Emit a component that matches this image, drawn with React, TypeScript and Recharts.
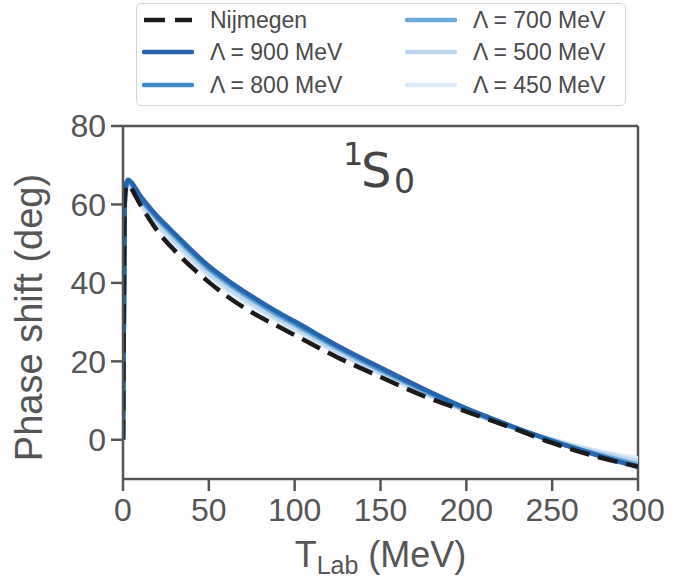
import { LineChart, Line, XAxis, YAxis, Legend, ReferenceLine } from "recharts";

// lab energy grid (MeV)
const tLab = [0, 1, 2, 3, 5, 7.5, 10, 15, 20, 25, 30, 40, 50, 60, 75, 90, 100, 125, 150, 175, 200, 225, 250, 275, 300];

// 1S0 phase shifts (deg)
const nijmegen = [0, 62, 64.6, 65, 64, 62, 60, 56.5, 53.3, 50.6, 48.3, 44, 40.2, 36.8, 32.5, 29, 26.7, 21, 16, 11.2, 7.2, 3.3, -0.8, -4.2, -6.8];
const lam900 = [0, 60.5, 65.5, 66.3, 65.6, 64, 62.3, 59.5, 57, 54.8, 52.6, 48.3, 44.3, 41, 36.6, 32.6, 30.2, 24, 18.4, 13, 8, 3.7, -0.3, -3.8, -7];
const lam800 = [0, 60, 65.3, 66.1, 65.4, 63.8, 62, 59.2, 56.7, 54.5, 52.3, 48, 44, 40.7, 36.3, 32.3, 29.9, 23.7, 18.1, 12.8, 7.8, 3.6, -0.3, -3.7, -6.8];
const lam700 = [0, 59.5, 65, 65.8, 65.1, 63.5, 61.6, 58.8, 56.3, 54, 51.8, 47.5, 43.5, 40.2, 35.8, 31.8, 29.4, 23.3, 17.7, 12.5, 7.6, 3.5, -0.2, -3.5, -6.3];
const lam500 = [0, 58.8, 64.4, 65.2, 64.4, 62.7, 60.8, 57.8, 55.2, 52.9, 50.7, 46.4, 42.5, 39.1, 34.8, 30.9, 28.6, 22.5, 17.1, 12.1, 7.4, 3.5, 0, -3, -5.5];
const lam450 = [0, 58.2, 63.8, 64.7, 63.9, 62.1, 60.1, 57.1, 54.5, 52.2, 50, 45.7, 41.8, 38.4, 34.2, 30.4, 28.1, 22.1, 16.8, 11.9, 7.3, 3.5, 0.1, -2.7, -4.7];

const xTicks = [0, 50, 100, 150, 200, 250, 300];
const yTicks = [0, 20, 40, 60, 80];

const seriesKeys = ["nij", "l900", "l800", "l700", "l500", "l450"];
const seriesNames = ["Nijmegen", "Λ = 900 MeV", "Λ = 800 MeV", "Λ = 700 MeV", "Λ = 500 MeV", "Λ = 450 MeV"];
const seriesColors = ["#1a1a1a", "#2565ae", "#4189c6", "#6aaad8", "#bdd7ee", "#dce9f6"];

const data = tLab.map((t, i) => ({
  t,
  nij: nijmegen[i],
  l900: lam900[i],
  l800: lam800[i],
  l700: lam700[i],
  l500: lam500[i],
  l450: lam450[i],
}));

const FONT = "'Liberation Sans', Arial, Helvetica, sans-serif";
const AXIS = "#555555";

function LegendBox() {
  const rows = [17.7, 49.3, 82];
  return (
    <div
      style={{
        position: "relative",
        width: 490,
        height: 103,
        boxSizing: "border-box",
        border: "1.5px solid #d4d4d4",
        borderRadius: 5,
        background: "#fff",
        fontFamily: FONT,
        fontSize: 23,
        color: "#4a4a4a",
      }}
    >
      {seriesKeys.map((k, i) => {
        const col = i < 3 ? 0 : 1;
        const top = rows[i % 3];
        const lineLeft = col === 0 ? 5 : 268;
        const textLeft = col === 0 ? 73 : 336;
        return (
          <div key={k}>
            <svg
              width={52}
              height={8}
              style={{ position: "absolute", left: lineLeft, top: top - 4 - 1.5 }}
            >
              <line
                x1={2}
                y1={4}
                x2={50}
                y2={4}
                stroke={seriesColors[i]}
                strokeWidth={4.5}
                strokeLinecap={k === "nij" ? "butt" : "round"}
                strokeDasharray={k === "nij" ? "21 10" : undefined}
              />
            </svg>
            <span
              style={{
                position: "absolute",
                left: textLeft,
                top: top - 14.5,
                lineHeight: "27px",
                whiteSpace: "nowrap",
              }}
            >
              {seriesNames[i]}
            </span>
          </div>
        );
      })}
    </div>
  );
}

function XLabel(props: any) {
  const { x, width } = props.viewBox;
  return (
    <text x={x + width / 2} y={567} textAnchor="middle" fill="#555" fontFamily={FONT} fontSize={36}>
      T
      <tspan fontSize={25} dy={7}>Lab</tspan>
      <tspan dy={-7}> (MeV)</tspan>
    </text>
  );
}

function YLabel(props: any) {
  const { y, height } = props.viewBox;
  const cy = y + height / 2 + 15;
  return (
    <text
      x={42}
      y={cy}
      transform={`rotate(-90, 42, ${cy})`}
      textAnchor="middle"
      fill="#555"
      fontFamily={FONT}
      fontSize={38}
    >
      Phase shift (deg)
    </text>
  );
}

export default function App() {
  const tickStyle = { fill: "#555", fontSize: 32, fontFamily: FONT };
  return (
    <div style={{ position: "absolute", left: 0, top: 0, width: 696, height: 584, background: "#fff" }}>
      <LineChart width={696} height={584} data={data} margin={{ top: 126, right: 58, bottom: 0, left: 0 }}>
        <XAxis
          dataKey="t"
          type="number"
          domain={[0, 300]}
          ticks={xTicks}
          allowDataOverflow
          height={105}
          tickSize={12}
          tickMargin={7}
          tick={tickStyle}
          axisLine={{ stroke: AXIS, strokeWidth: 2.5 }}
          tickLine={{ stroke: AXIS, strokeWidth: 2.5 }}
          label={<XLabel />}
        />
        <YAxis
          type="number"
          domain={[-10, 80]}
          ticks={yTicks}
          allowDataOverflow
          width={123}
          tickSize={12}
          tickMargin={5}
          tick={tickStyle}
          axisLine={{ stroke: AXIS, strokeWidth: 2.5 }}
          tickLine={{ stroke: AXIS, strokeWidth: 2.5 }}
          label={<YLabel />}
        />
        <ReferenceLine y={80} stroke={AXIS} strokeWidth={2.5} />
        <ReferenceLine x={300} stroke={AXIS} strokeWidth={2.5} />
        <Legend
          verticalAlign="middle"
          align="center"
          wrapperStyle={{ top: 3, left: 136, width: 490 }}
          content={() => <LegendBox />}
        />
        {[5, 4, 3, 2, 1].map((i) => (
          <Line
            key={seriesKeys[i]}
            dataKey={seriesKeys[i]}
            name={seriesNames[i]}
            type="monotone"
            stroke={seriesColors[i]}
            strokeWidth={4.5}
            dot={false}
            activeDot={false}
            isAnimationActive={false}
          />
        ))}
        <Line
          dataKey="nij"
          name="Nijmegen"
          type="monotone"
          stroke={seriesColors[0]}
          strokeWidth={4.5}
          strokeDasharray="20 9"
          dot={false}
          activeDot={false}
          isAnimationActive={false}
        />
        <text x={343} y={165} fill="#444" fontFamily="'DejaVu Sans', sans-serif" fontSize={32}>1</text>
        <text x={361} y={187} fill="#444" fontFamily="'DejaVu Sans', sans-serif" fontSize={48}>S</text>
        <text x={394} y={193} fill="#444" fontFamily="'DejaVu Sans', sans-serif" fontSize={33}>0</text>
      </LineChart>
    </div>
  );
}
